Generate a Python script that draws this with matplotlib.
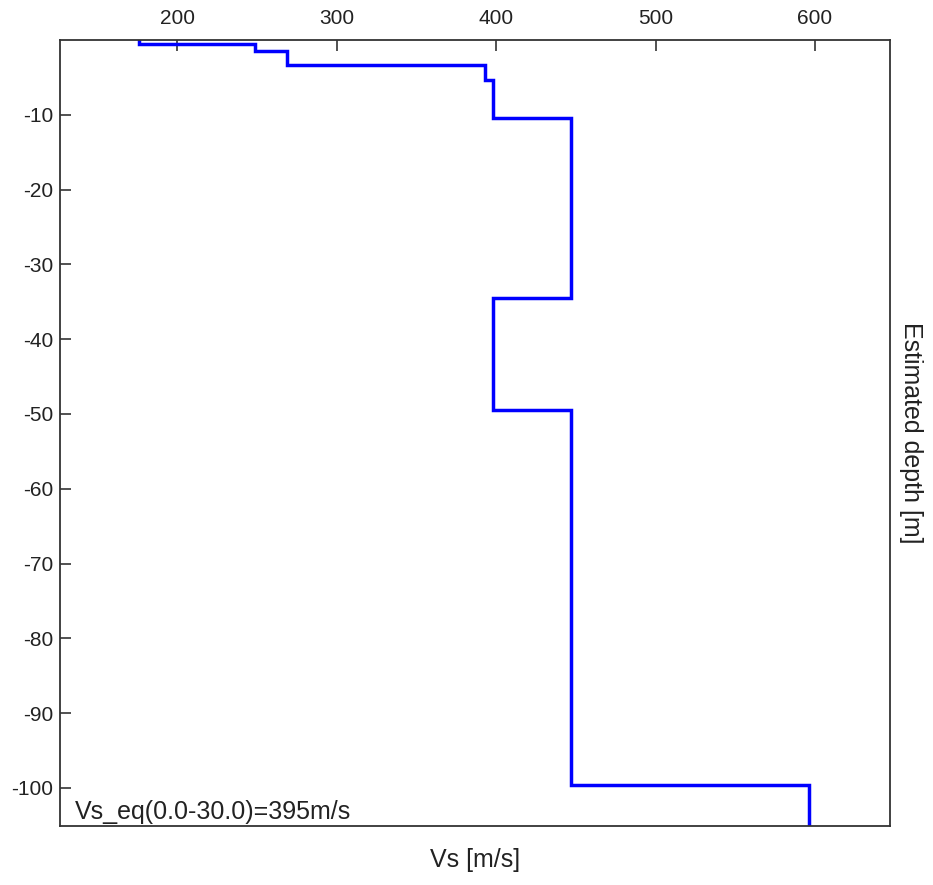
import matplotlib
matplotlib.use('Agg')
import matplotlib.pyplot as plt
from matplotlib.ticker import FuncFormatter

# Perfil Vs por capas
vs = [176, 249, 269, 393, 398, 447, 398, 447, 596]
top_depth = [0, 0.5, 1.5, 3.3, 5.3, 10.4, 34.5, 49.5, 99.6]
bottom_last = 106

x_ticks = [200, 300, 400, 500, 600]
y_ticks = [-10, -20, -30, -40, -50, -60, -70, -80, -90, -100]

plt.rcParams['font.family'] = ['Liberation Sans', 'DejaVu Sans']

fig = plt.figure(figsize=(9.33, 8.85), dpi=100)
ax = fig.add_axes([0.0643, 0.0667, 0.8896, 0.888])

# construir la escalera
bottoms = top_depth[1:] + [bottom_last]
xs, ys = [], []
for v, t, b in zip(vs, top_depth, bottoms):
    xs += [v, v]
    ys += [-t, -b]
ax.plot(xs, ys, color='#0000ff', linewidth=2.5, solid_joinstyle='miter')

ax.set_xlim(126.5, 647)
ax.set_ylim(-105.1, 0)

ax.xaxis.tick_top()
ax.set_xticks(x_ticks)
ax.set_yticks(y_ticks)
ax.yaxis.set_major_formatter(FuncFormatter(lambda v, p: '%d' % v))
ax.tick_params(axis='x', direction='in', length=8, width=1.2, labelsize=15, pad=9,
               colors='#333333', labelcolor='#222222')
ax.tick_params(axis='y', direction='in', length=8, width=1.2, labelsize=15, pad=5,
               colors='#333333', labelcolor='#222222')
for s in ax.spines.values():
    s.set_linewidth(1.3)
    s.set_color('#333333')

ax.set_xlabel('Vs [m/s]', fontsize=18, labelpad=16, color='#222222')
ax.xaxis.set_label_position('bottom')
ax.yaxis.set_label_position('right')
ax.set_ylabel('Estimated depth [m]', fontsize=18, rotation=270, labelpad=24, color='#222222')

ax.text(0.018, 0.003, 'Vs_eq(0.0-30.0)=395m/s', transform=ax.transAxes,
        fontsize=18, ha='left', va='bottom', color='#222222')

fig.savefig('out.png', dpi=100)
